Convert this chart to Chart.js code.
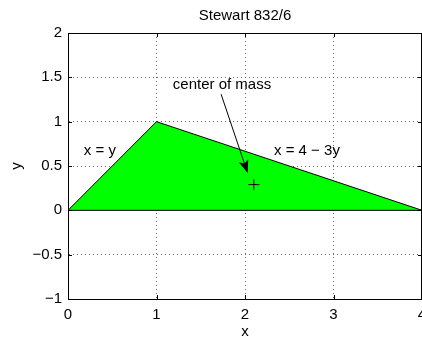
<!DOCTYPE html>
<html>
<head>
<meta charset="utf-8">
<script src="https://cdn.jsdelivr.net/npm/chart.js@4/dist/chart.umd.min.js"></script>
<style>
  html, body { margin: 0; padding: 0; overflow: hidden; background: #fff; }
  #wrap { width: 490px; height: 339px; }
</style>
</head>
<body>
<div id="wrap"><canvas id="chart" width="490" height="339"></canvas></div>
<script>
// region between x = y, x = 4 - 3y and the x axis
const regionX = [0, 1, 4];
const regionY = [0, 1, 0];

// bottom edge of the region
const edgeX = [0, 4];
const edgeY = [0, 0];

// marked center of mass
const massX = [2.1];
const massY = [0.29];

// arrow from the label to the point
const arrowFrom = [1.73, 1.31];
const arrowTo = [2.03, 0.42];

// text labels placed in data units
const labelText = ["center of mass", "x = y", "x = 4 \u2212 3y"];
const labelX = [1.74, 0.36, 2.70];
const labelY = [1.42, 0.67, 0.67];

const xTicks = [0, 1, 2, 3, 4];
const yTicks = [-1, -0.5, 0, 0.5, 1, 1.5, 2];

const FONT = "'Liberation Sans', Arial, Helvetica, sans-serif";

function fmtTick(v) {
    if (v < 0) return "\u2212" + Math.abs(v);
    return String(v);
}

// arrow, text labels, inward ticks and the box
const matlabLook = {
    id: "matlabLook",
    afterDatasetsDraw(chart) {
        const ctx = chart.ctx;
        const xs = chart.scales.x;
        const ys = chart.scales.y;

        // arrow
        const x1 = xs.getPixelForValue(arrowFrom[0]);
        const y1 = ys.getPixelForValue(arrowFrom[1]);
        const x2 = xs.getPixelForValue(arrowTo[0]);
        const y2 = ys.getPixelForValue(arrowTo[1]);
        const ang = Math.atan2(y2 - y1, x2 - x1);
        const headLen = 13, headW = 5, notch = 3;
        const mx = x2 - Math.cos(ang) * (headLen - notch);
        const my = y2 - Math.sin(ang) * (headLen - notch);
        ctx.save();
        ctx.strokeStyle = "#000";
        ctx.fillStyle = "#000";
        ctx.lineWidth = 1;
        ctx.beginPath();
        ctx.moveTo(x1, y1);
        ctx.lineTo(mx, my);
        ctx.stroke();
        const bx = x2 - Math.cos(ang) * headLen;
        const by = y2 - Math.sin(ang) * headLen;
        const nx = -Math.sin(ang), ny = Math.cos(ang);
        ctx.beginPath();
        ctx.moveTo(x2, y2);
        ctx.lineTo(bx + nx * headW, by + ny * headW);
        ctx.lineTo(mx, my);
        ctx.lineTo(bx - nx * headW, by - ny * headW);
        ctx.closePath();
        ctx.fill();

        // labels
        ctx.font = "15px " + FONT;
        ctx.textAlign = "center";
        ctx.textBaseline = "middle";
        labelText.forEach((t, i) => {
            ctx.fillText(t, xs.getPixelForValue(labelX[i]), ys.getPixelForValue(labelY[i]));
        });
        ctx.restore();
    },
    afterDraw(chart) {
        const ctx = chart.ctx;
        const a = chart.chartArea;
        const xs = chart.scales.x;
        const ys = chart.scales.y;
        const tick = 4;
        ctx.save();
        ctx.strokeStyle = "#000";
        ctx.lineWidth = 1;
        ctx.beginPath();
        xTicks.forEach(v => {
            const px = Math.round(xs.getPixelForValue(v)) + 0.5;
            ctx.moveTo(px, a.bottom);
            ctx.lineTo(px, a.bottom - tick);
            ctx.moveTo(px, a.top);
            ctx.lineTo(px, a.top + tick);
        });
        yTicks.forEach(v => {
            const py = Math.round(ys.getPixelForValue(v)) + 0.5;
            ctx.moveTo(a.left, py);
            ctx.lineTo(a.left + tick, py);
            ctx.moveTo(a.right, py);
            ctx.lineTo(a.right - tick, py);
        });
        // top and right edges of the box
        ctx.moveTo(a.left, Math.round(a.top) + 0.5);
        ctx.lineTo(a.right, Math.round(a.top) + 0.5);
        ctx.moveTo(Math.round(a.right) - 0.5, a.top);
        ctx.lineTo(Math.round(a.right) - 0.5, a.bottom);
        ctx.stroke();
        ctx.restore();
    }
};

const gridCommon = {
    color: "#666",
    lineWidth: 1,
    drawTicks: false
};

new Chart(document.getElementById("chart"), {
    type: "line",
    data: {
        datasets: [
            {
                data: regionX.map((x, i) => ({ x: x, y: regionY[i] })),
                order: 2,
                fill: "origin",
                backgroundColor: "#00ff00",
                borderColor: "#000",
                borderWidth: 1,
                pointRadius: 0,
                tension: 0
            },
            {
                data: edgeX.map((x, i) => ({ x: x, y: edgeY[i] })),
                order: 1,
                fill: false,
                borderColor: "#000",
                borderWidth: 1,
                pointRadius: 0
            },
            {
                data: massX.map((x, i) => ({ x: x, y: massY[i] })),
                order: 0,
                showLine: false,
                fill: false,
                pointStyle: "cross",
                pointRadius: 5.5,
                borderColor: "#000",
                borderWidth: 1,
                backgroundColor: "#000"
            }
        ]
    },
    options: {
        responsive: false,
        animation: false,
        events: [],
        layout: { padding: { left: 0, right: 68, top: 0, bottom: 0 } },
        plugins: {
            legend: { display: false },
            tooltip: { enabled: false },
            title: {
                display: true,
                fullSize: false,
                text: "Stewart 832/6",
                color: "#000",
                font: { family: FONT, size: 15, weight: "normal" },
                padding: { top: 7, bottom: 8 }
            }
        },
        scales: {
            x: {
                type: "linear",
                min: 0,
                max: 4,
                afterBuildTicks: s => { s.ticks = xTicks.map(v => ({ value: v })); },
                afterFit: s => { s.height = 40; },
                ticks: {
                    color: "#000",
                    padding: 7,
                    font: { family: FONT, size: 15 },
                    callback: v => fmtTick(v)
                },
                grid: gridCommon,
                border: { display: true, color: "#000", width: 1, dash: [1, 3] },
                title: {
                    display: true,
                    text: "x",
                    color: "#000",
                    font: { family: FONT, size: 15 },
                    padding: { top: 0, bottom: -2 }
                }
            },
            y: {
                type: "linear",
                min: -1,
                max: 2,
                afterBuildTicks: s => { s.ticks = yTicks.map(v => ({ value: v })); },
                afterFit: s => { s.width = 68; },
                ticks: {
                    color: "#000",
                    padding: 6,
                    font: { family: FONT, size: 15 },
                    callback: v => fmtTick(v)
                },
                grid: gridCommon,
                border: { display: true, color: "#000", width: 1, dash: [1, 3] },
                title: {
                    display: true,
                    text: "y",
                    color: "#000",
                    font: { family: FONT, size: 15 },
                    padding: { top: 8, bottom: 0 }
                }
            }
        }
    },
    plugins: [matlabLook]
});
</script>
</body>
</html>
